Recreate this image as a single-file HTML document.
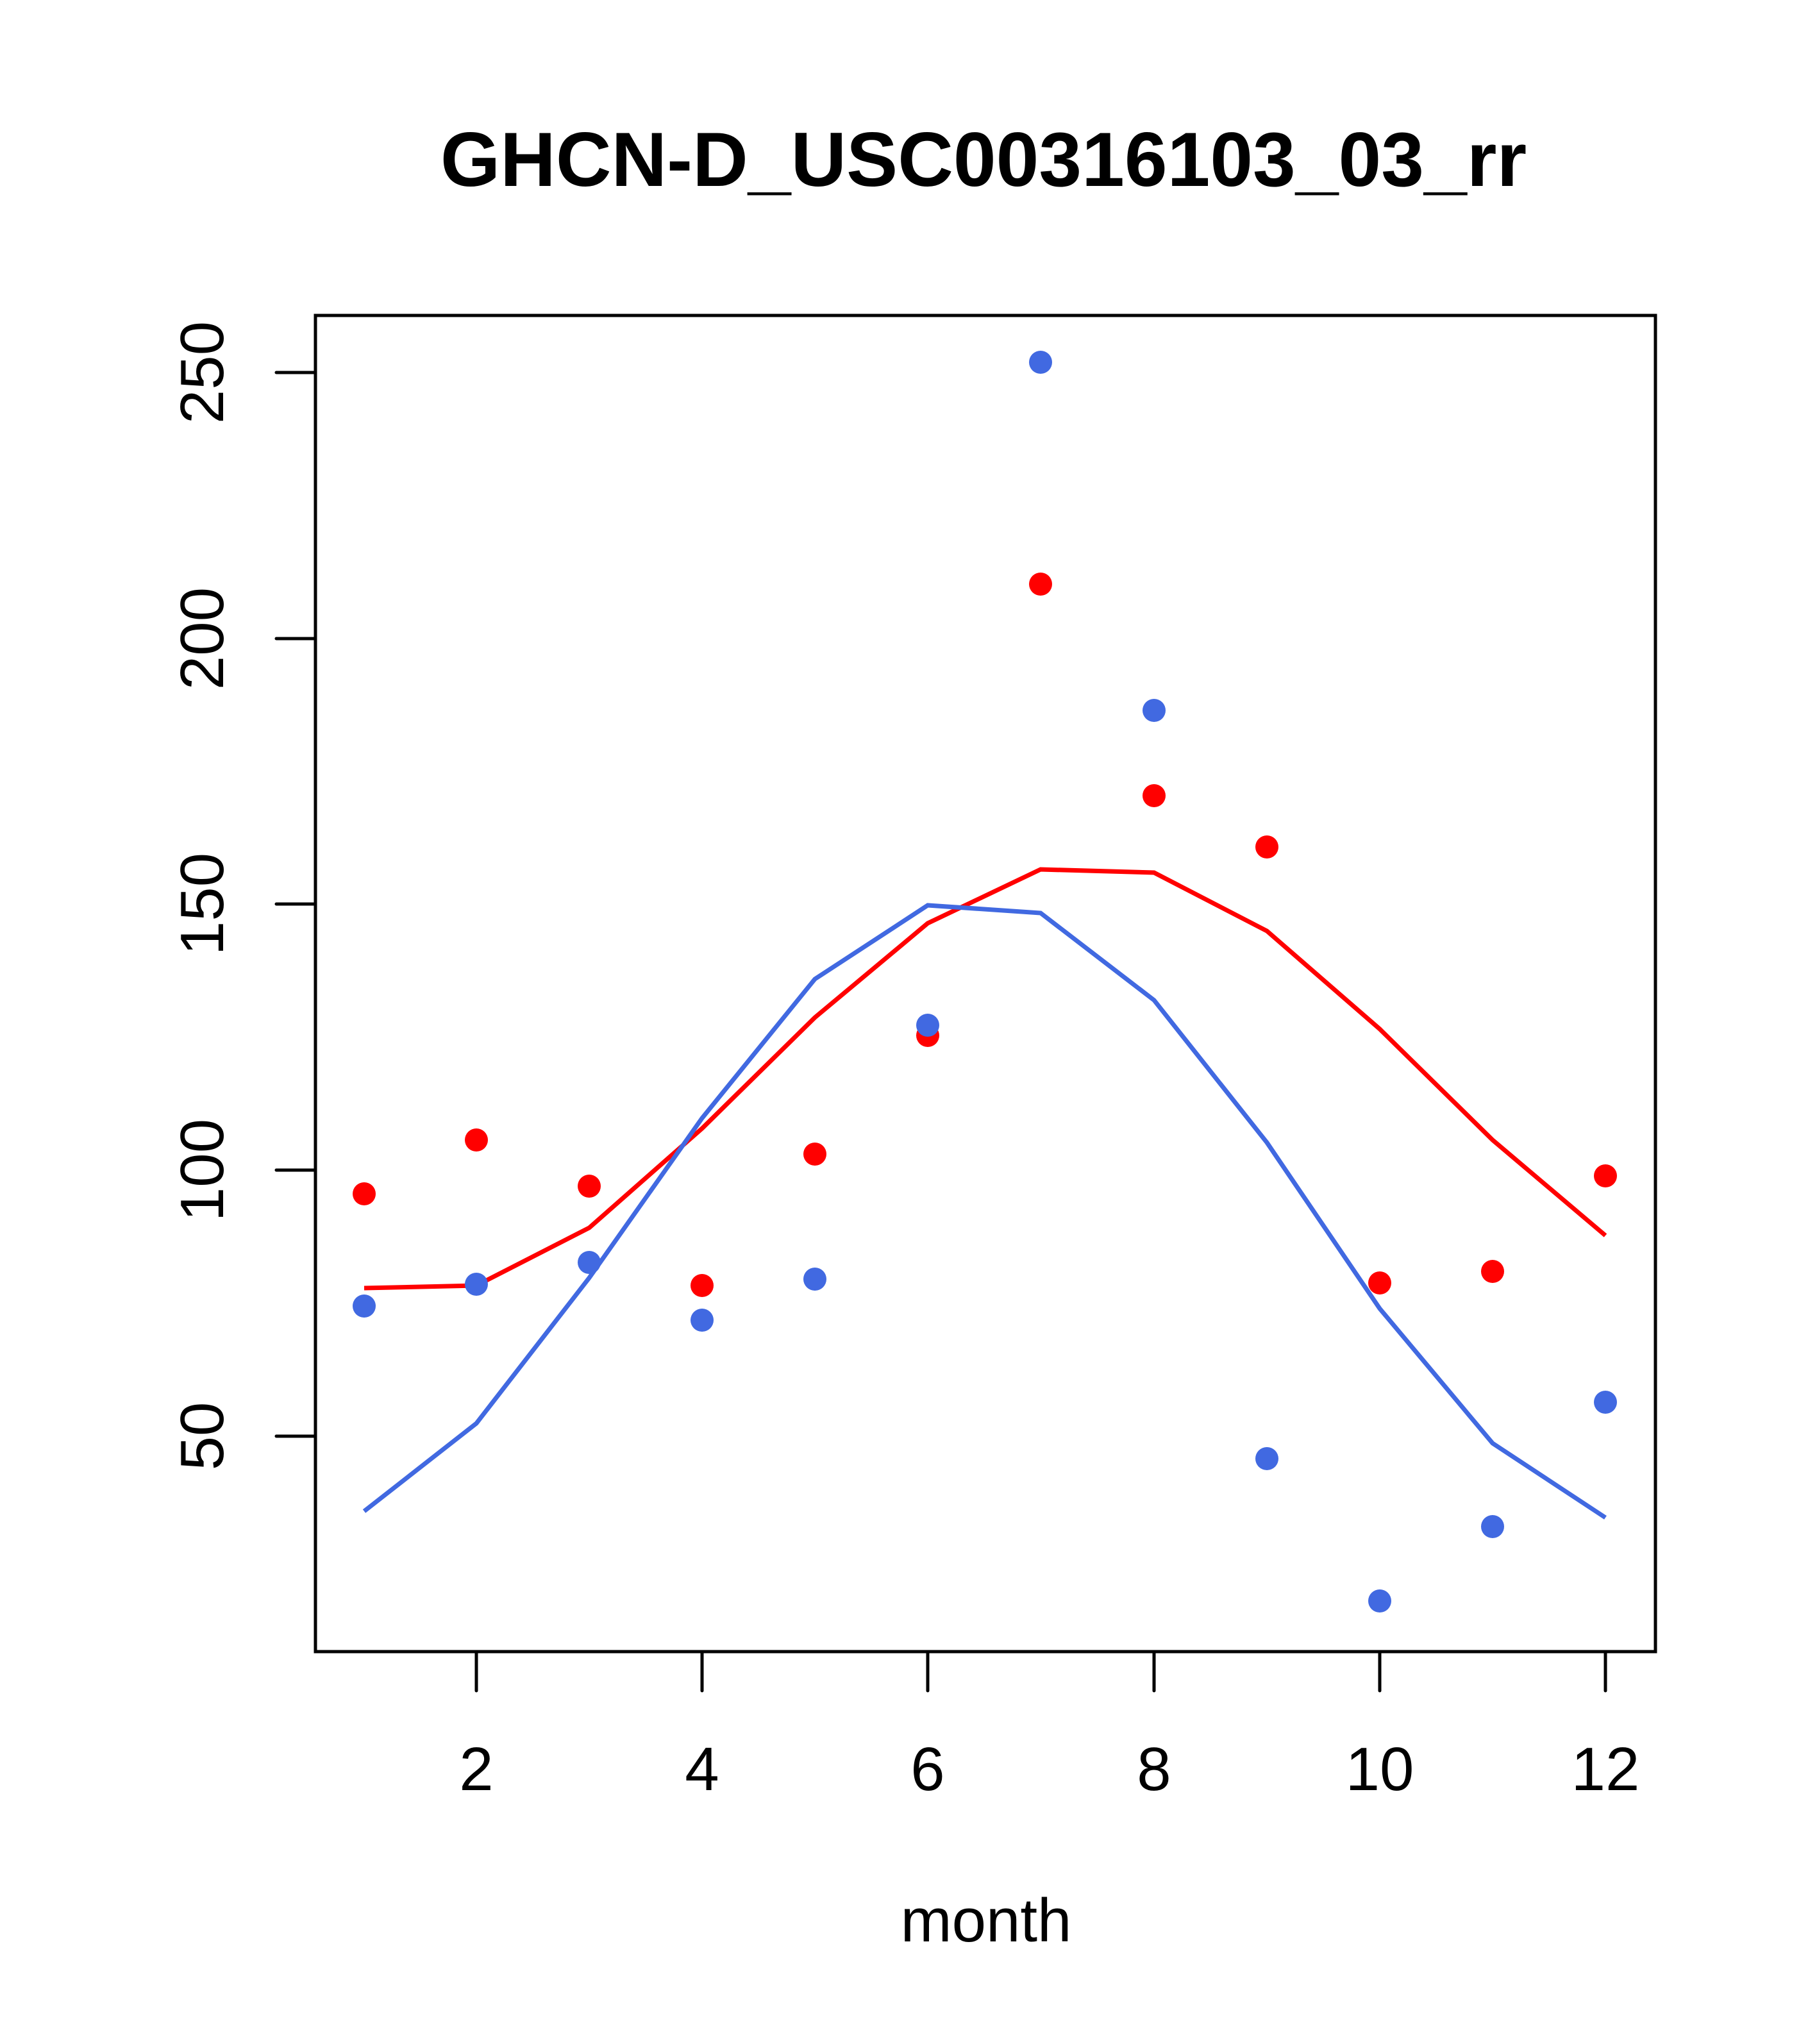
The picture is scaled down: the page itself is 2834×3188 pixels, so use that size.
<!DOCTYPE html>
<html><head><style>body{margin:0;background:#fff}svg{display:block}</style></head><body>
<svg width="2834" height="3188" viewBox="0 0 2834 3188" xmlns="http://www.w3.org/2000/svg" font-family="Liberation Sans, sans-serif">
<rect width="2834" height="3188" fill="#fff"/>
<text x="1534" y="290" font-size="120" font-weight="bold" text-anchor="middle">GHCN-D_USC00316103_03_rr</text>
<rect x="492" y="492" width="2090" height="2084" fill="none" stroke="#000" stroke-width="5"/>
<g stroke="#000" stroke-width="5" stroke-linecap="round">
<line x1="743" y1="2576" x2="743" y2="2637"/><line x1="1095" y1="2576" x2="1095" y2="2637"/><line x1="1447" y1="2576" x2="1447" y2="2637"/><line x1="1800" y1="2576" x2="1800" y2="2637"/><line x1="2152" y1="2576" x2="2152" y2="2637"/><line x1="2504" y1="2576" x2="2504" y2="2637"/>
<line x1="431" y1="581" x2="492" y2="581"/><line x1="431" y1="996" x2="492" y2="996"/><line x1="431" y1="1410" x2="492" y2="1410"/><line x1="431" y1="1825" x2="492" y2="1825"/><line x1="431" y1="2240" x2="492" y2="2240"/>
</g>
<g font-size="96" text-anchor="middle">
<text x="743" y="2792">2</text><text x="1095" y="2792">4</text><text x="1447" y="2792">6</text><text x="1800" y="2792">8</text><text x="2152" y="2792">10</text><text x="2504" y="2792">12</text>
<text x="1538" y="3028">month</text>
<text transform="translate(348,581) rotate(-90)">250</text>
<text transform="translate(348,996) rotate(-90)">200</text>
<text transform="translate(348,1410) rotate(-90)">150</text>
<text transform="translate(348,1825) rotate(-90)">100</text>
<text transform="translate(348,2240) rotate(-90)">50</text>
</g>
<polyline fill="none" stroke="#ff0000" stroke-width="7" points="568,2009 743,2005 919,1915 1095,1760 1271,1587 1447,1440 1623,1356 1800,1361 1976,1452 2152,1605 2328,1778 2504,1927"/>
<polyline fill="none" stroke="#4169e1" stroke-width="7" points="568,2357 743,2220 919,1993 1095,1744 1271,1527 1447,1412 1623,1424 1800,1560 1976,1782 2152,2041 2328,2251 2504,2367"/>
<g fill="#ff0000">
<circle cx="568" cy="1862" r="18"/><circle cx="743" cy="1778" r="18"/><circle cx="919" cy="1850" r="18"/><circle cx="1095" cy="2005" r="18"/><circle cx="1271" cy="1800" r="18"/><circle cx="1447" cy="1615" r="18"/><circle cx="1623" cy="911" r="18"/><circle cx="1800" cy="1241" r="18"/><circle cx="1976" cy="1321" r="18"/><circle cx="2152" cy="2001" r="18"/><circle cx="2328" cy="1983" r="18"/><circle cx="2504" cy="1834" r="18"/>
</g>
<g fill="#4169e1">
<circle cx="568" cy="2037" r="18"/><circle cx="743" cy="2003" r="18"/><circle cx="919" cy="1969" r="18"/><circle cx="1095" cy="2059" r="18"/><circle cx="1271" cy="1995" r="18"/><circle cx="1447" cy="1599" r="18"/><circle cx="1623" cy="565" r="18"/><circle cx="1800" cy="1108" r="18"/><circle cx="1976" cy="2275" r="18"/><circle cx="2152" cy="2497" r="18"/><circle cx="2328" cy="2381" r="18"/><circle cx="2504" cy="2187" r="18"/>
</g>
</svg>
</body></html>
